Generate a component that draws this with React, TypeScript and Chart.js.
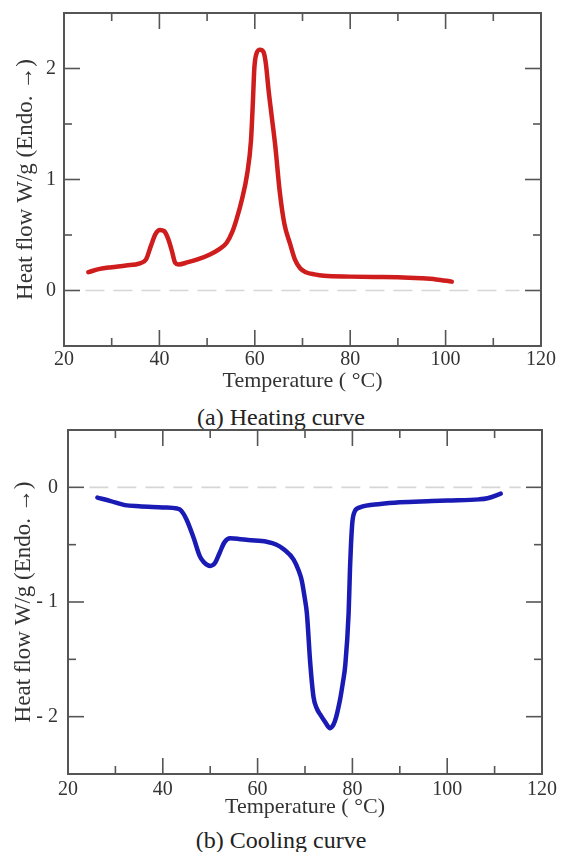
import React, { useEffect, useRef } from "react";
import { Chart, registerables } from "chart.js";

Chart.register(...registerables);

// ---------- data ----------
const heatT = [25.1, 27.5, 30, 33, 35.9, 37.2, 38.2, 39.2, 40.1, 41.0, 41.8, 42.6, 43.3, 44, 46, 48, 50.6, 52.5, 54.1, 55.3, 56.2, 57.3, 58.4, 59.2, 59.6, 59.9, 60.4, 61.1, 61.8, 62.3, 62.9, 63.6, 64.3, 65.2, 66.2, 67.4, 68.4, 69.5, 70.7, 72.5, 74.5, 80, 85, 90, 95, 98, 101.3];
const heatFlow = [0.165, 0.195, 0.21, 0.225, 0.245, 0.28, 0.4, 0.51, 0.545, 0.535, 0.47, 0.36, 0.25, 0.235, 0.255, 0.28, 0.325, 0.37, 0.43, 0.53, 0.645, 0.82, 1.05, 1.35, 1.7, 2.0, 2.14, 2.17, 2.15, 2.05, 1.8, 1.55, 1.3, 0.9, 0.6, 0.42, 0.28, 0.2, 0.165, 0.145, 0.132, 0.125, 0.122, 0.12, 0.11, 0.1, 0.08];

const coolT = [26.2, 29, 32, 35, 40, 43, 43.8, 45, 46.5, 47.8, 48.6, 50.0, 51.0, 52, 53, 54.2, 56, 58, 61.9, 64, 65.5, 67.6, 68.7, 69.3, 70, 70.4, 71.1, 71.8, 72.5, 73.2, 74.3, 75.3, 76.3, 77.4, 78.0, 78.5, 79.2, 79.5, 79.7, 80.0, 80.5, 81.6, 85.9, 90, 96.8, 100, 106.7, 108.5, 111.3];
const coolFlow = [-0.09, -0.12, -0.155, -0.165, -0.175, -0.185, -0.2, -0.28, -0.44, -0.6, -0.65, -0.685, -0.66, -0.57, -0.48, -0.445, -0.45, -0.46, -0.475, -0.5, -0.54, -0.63, -0.73, -0.81, -0.98, -1.1, -1.53, -1.83, -1.93, -1.98, -2.05, -2.1, -2.04, -1.85, -1.7, -1.55, -1.1, -0.7, -0.5, -0.3, -0.21, -0.175, -0.145, -0.13, -0.12, -0.115, -0.105, -0.095, -0.055];

const zeroLineT = [24.5, 115.5];
const xTickLabels = [20, 40, 60, 80, 100, 120];
const xMinorTicks = [30, 50, 70, 90, 110];
const heatYTicks = [0, 1, 2];
const heatYMinor = [0.5, 1.5];
const coolYTicks = [-2, -1, 0];
const coolYMinor = [-1.5, -0.5];

const xTitle = "Temperature ( °C)";
const yTitle = "Heat flow W/g (Endo. →)";
const captionA = "(a) Heating curve";
const captionB = "(b) Cooling curve";

const SERIF = "'Liberation Serif', 'Times New Roman', serif";
const TEXT = "#333";

const frameTicks = {
  id: "frameTicks",
  afterDraw(chart: any, _a: any, opts: any) {
    const { ctx, chartArea } = chart;
    const { left, right, top, bottom } = chartArea;
    const x = chart.scales.x;
    const y = chart.scales.y;
    ctx.save();
    ctx.strokeStyle = "#555";
    ctx.lineWidth = 1.6;
    const seg = (x1: number, y1: number, x2: number, y2: number) => {
      ctx.beginPath();
      ctx.moveTo(x1, y1);
      ctx.lineTo(x2, y2);
      ctx.stroke();
    };
    const MAJ = 16, MIN = 8;
    for (const v of opts.xMajor) {
      const p = x.getPixelForValue(v);
      if (p <= left + 1 || p >= right - 1) continue;
      seg(p, bottom, p, bottom - MAJ);
      seg(p, top, p, top + MAJ);
    }
    for (const v of opts.xMinor) {
      const p = x.getPixelForValue(v);
      seg(p, bottom, p, bottom - MIN);
      seg(p, top, p, top + MIN);
    }
    for (const v of opts.yMajor) {
      const p = y.getPixelForValue(v);
      if (p <= top + 1 || p >= bottom - 1) continue;
      seg(left, p, left + MAJ, p);
      seg(right, p, right - MAJ, p);
    }
    for (const v of opts.yMinor) {
      const p = y.getPixelForValue(v);
      seg(left, p, left + MIN, p);
      seg(right, p, right - MIN, p);
    }
    ctx.lineWidth = 2;
    ctx.strokeRect(left, top, right - left, bottom - top);
    ctx.restore();
  },
};

type Cfg = {
  T: number[];
  F: number[];
  color: string;
  yMin: number;
  yMax: number;
  yTicks: number[];
  yMinor: number[];
  padTop: number;
  padRight: number;
  yWidth: number;
  xHeight: number;
  yLabelPad: number;
  xLabelPad: number;
  yTitlePad: number;
  xTitlePad: number;
  fmt: (v: number) => string;
};

function makeChart(canvas: HTMLCanvasElement, c: Cfg) {
  const pts = c.T.map((t, i) => ({ x: t, y: c.F[i] }));
  const zero = zeroLineT.map((t) => ({ x: t, y: 0 }));
  return new Chart(canvas, {
    type: "line",
    data: {
      datasets: [
        {
          data: zero,
          borderColor: "#d6d6d6",
          borderWidth: 1.6,
          borderDash: [19, 9],
          pointRadius: 0,
          order: 2,
        },
        {
          data: pts,
          borderColor: c.color,
          borderWidth: 4.5,
          pointRadius: 0,
          cubicInterpolationMode: "monotone",
          borderCapStyle: "round",
          borderJoinStyle: "round",
          order: 1,
        },
      ],
    },
    options: {
      responsive: false,
      maintainAspectRatio: false,
      animation: false,
      layout: { padding: { top: c.padTop, right: c.padRight, left: 0, bottom: 0 } },
      plugins: {
        legend: { display: false },
        tooltip: { enabled: false },
        frameTicks: { xMajor: xTickLabels, xMinor: xMinorTicks, yMajor: c.yTicks, yMinor: c.yMinor },
      } as any,
      scales: {
        x: {
          type: "linear",
          min: 20,
          max: 120,
          grid: { display: false, drawTicks: false },
          border: { display: false },
          afterBuildTicks: (s: any) => {
            s.ticks = xTickLabels.map((v) => ({ value: v }));
          },
          afterFit: (s: any) => {
            s.height = c.xHeight;
            s.paddingLeft = 0;
            s.paddingRight = 0;
          },
          ticks: {
            autoSkip: false,
            maxRotation: 0,
            padding: c.xLabelPad,
            color: TEXT,
            font: { family: SERIF, size: 20 },
            callback: (v: any) => String(v),
          },
          title: {
            display: true,
            text: xTitle,
            color: TEXT,
            font: { family: SERIF, size: 22 },
            padding: { top: 0, bottom: c.xTitlePad },
          },
        },
        y: {
          type: "linear",
          min: c.yMin,
          max: c.yMax,
          grid: { display: false, drawTicks: false },
          border: { display: false },
          afterBuildTicks: (s: any) => {
            s.ticks = c.yTicks.map((v) => ({ value: v }));
          },
          afterFit: (s: any) => {
            s.width = c.yWidth;
            s.paddingTop = 0;
            s.paddingBottom = 0;
          },
          ticks: {
            padding: c.yLabelPad,
            color: TEXT,
            font: { family: SERIF, size: 20 },
            callback: (v: any) => c.fmt(Number(v)),
          },
          title: {
            display: true,
            text: yTitle,
            color: TEXT,
            font: { family: SERIF, size: 23 },
            padding: { top: c.yTitlePad, bottom: 0 },
          },
        },
      },
    },
    plugins: [frameTicks],
  } as any);
}

export default function App() {
  const r1 = useRef<HTMLCanvasElement>(null);
  const r2 = useRef<HTMLCanvasElement>(null);

  useEffect(() => {
    const c1 = makeChart(r1.current!, {
      T: heatT,
      F: heatFlow,
      color: "#cf1d1d",
      yMin: -0.5,
      yMax: 2.5,
      yTicks: heatYTicks,
      yMinor: heatYMinor,
      padTop: 13,
      padRight: 21,
      yWidth: 64,
      xHeight: 54,
      yLabelPad: 8,
      xLabelPad: 2,
      yTitlePad: 12,
      xTitlePad: 6,
      fmt: (v) => String(v),
    });
    const c2 = makeChart(r2.current!, {
      T: coolT,
      F: coolFlow,
      color: "#1a1ab4",
      yMin: -2.5,
      yMax: 0.5,
      yTicks: coolYTicks,
      yMinor: coolYMinor,
      padTop: 5,
      padRight: 20,
      yWidth: 68,
      xHeight: 51,
      yLabelPad: 10,
      xLabelPad: 4,
      yTitlePad: 10,
      xTitlePad: 5,
      fmt: (v) => (v < 0 ? "- " + Math.abs(v) : String(v)),
    });
    return () => {
      c1.destroy();
      c2.destroy();
    };
  }, []);

  const cap: React.CSSProperties = {
    position: "absolute",
    left: 0,
    width: 562,
    textAlign: "center",
    fontFamily: SERIF,
    fontSize: 24,
    lineHeight: "28px",
    color: "#222",
    margin: 0,
  };

  return (
    <div style={{ position: "absolute", left: 0, top: 0, width: 562, height: 852, background: "#fff" }}>
      <canvas ref={r1} width={562} height={400} style={{ position: "absolute", left: 0, top: 0 }} />
      <div style={{ ...cap, top: 403 }}>{captionA}</div>
      <canvas ref={r2} width={562} height={400} style={{ position: "absolute", left: 0, top: 425 }} />
      <div style={{ ...cap, top: 826 }}>{captionB}</div>
    </div>
  );
}
